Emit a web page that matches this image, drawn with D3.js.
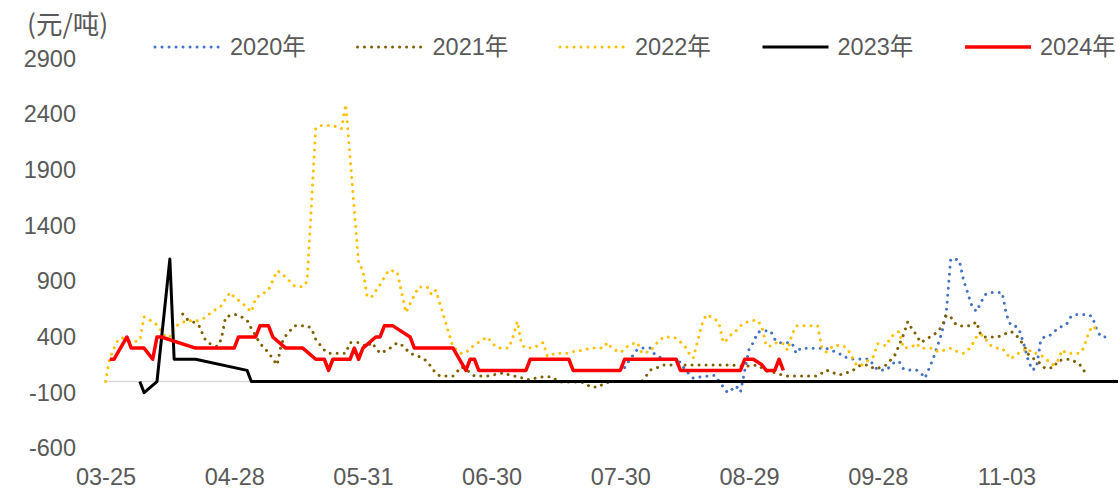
<!DOCTYPE html>
<html>
<head>
<meta charset="utf-8">
<script src="https://cdn.jsdelivr.net/npm/d3@7"></script>
<style>
  html, body { margin: 0; padding: 0; background: #fff; }
  svg { display: block; }
  text { font-family: "Liberation Sans", Arial, "Noto Sans CJK SC", sans-serif; fill: #595959; }
</style>
</head>
<body>
<svg id="chart" width="1120" height="489"></svg>
<script>
// Axis content
const unitLabel = "(元/吨)";
const tickLabels = ["03-25", "04-28", "05-31", "06-30", "07-30", "08-29", "09-28", "11-03"];
const labelStep = 30;          // one date label every 30 categories
const categoryCount = 237;     // trading-day categories from 03-25 to late November
const yTicks = [-600, -100, 400, 900, 1400, 1900, 2400, 2900];
const seriesNames = ["2020年", "2021年", "2022年", "2023年", "2024年"];

// Values per year: [category index, 元/吨]
const y2020 = [[121,125],[122,187],[123,238],[124,289],[125,300],[127,300],[128,245],[130,200],[133,200],[134,170],[135,110],[136,70],[137,30],[139,43],[142,56],[144,-50],[145,-100],[146,-72],[147,-40],[148,-95],[150,290],[151,350],[152,440],[153,456],[155,456],[156,380],[157,348],[160,348],[161,253],[162,298],[168,298],[171,253],[172,223],[174,202],[178,202],[179,148],[180,103],[182,103],[183,139],[184,178],[185,178],[186,112],[187,103],[189,103],[190,79],[191,30],[192,120],[193,214],[194,328],[195,447],[196,627],[197,1100],[198,1100],[199,1090],[200,911],[201,791],[202,671],[203,630],[204,707],[205,780],[206,800],[209,800],[210,600],[211,507],[212,501],[213,462],[214,343],[215,200],[216,103],[217,124],[218,372],[219,405],[220,411],[221,440],[222,480],[224,513],[225,580],[226,603],[229,603],[230,582],[231,470],[232,402],[234,397]];

const y2021 = [[18,606],[19,560],[21,525],[22,490],[23,390],[24,345],[26,315],[27,380],[28,580],[30,603],[31,597],[33,550],[34,477],[36,343],[38,260],[40,148],[41,340],[42,410],[44,500],[47,500],[48,477],[49,380],[50,330],[51,283],[52,253],[56,253],[57,350],[59,350],[61,312],[62,352],[64,253],[66,290],[68,348],[69,330],[71,253],[73,225],[74,208],[75,178],[76,127],[77,74],[78,49],[81,49],[83,133],[84,110],[86,49],[89,49],[93,79],[94,60],[96,43],[99,13],[100,29],[102,43],[104,43],[105,15],[106,-5],[111,-5],[112,-20],[113,-50],[115,-50],[116,-20],[118,0],[125,0],[126,49],[127,103],[129,130],[130,148],[146,148],[149,135],[150,140],[152,148],[154,95],[156,79],[158,55],[159,49],[166,49],[168,103],[171,58],[174,94],[176,148],[178,148],[179,118],[180,118],[182,148],[184,238],[186,420],[187,537],[188,470],[189,420],[190,350],[191,372],[193,420],[194,447],[195,500],[196,597],[197,580],[198,522],[199,498],[201,500],[202,507],[203,537],[204,417],[205,400],[208,400],[211,450],[212,430],[213,380],[214,330],[215,250],[216,210],[217,195],[219,118],[221,125],[222,187],[224,199],[225,199],[227,157],[228,100],[229,58]];

const y2022 = [[0,0],[1,210],[2,300],[3,380],[4,390],[6,355],[7,360],[8,370],[9,580],[10,565],[11,530],[12,510],[14,400],[15,400],[16,490],[19,550],[21,540],[23,570],[25,630],[27,680],[29,800],[30,760],[32,700],[34,625],[35,750],[38,820],[40,995],[41,975],[44,860],[46,850],[47,900],[49,2270],[50,2300],[53,2300],[55,2270],[56,2490],[59,1060],[60,1000],[61,760],[62,760],[64,870],[66,1000],[68,985],[70,620],[71,700],[73,850],[75,850],[76,780],[77,820],[81,310],[83,250],[84,260],[86,330],[89,400],[91,310],[92,300],[94,300],[95,400],[96,540],[97,330],[98,300],[100,305],[102,350],[103,225],[105,255],[108,255],[110,280],[111,277],[113,300],[116,300],[117,350],[118,300],[120,260],[121,290],[122,330],[124,350],[125,255],[127,270],[128,330],[129,360],[130,400],[132,400],[133,390],[135,320],[136,253],[137,210],[139,510],[140,600],[142,565],[143,520],[144,350],[145,380],[146,430],[147,456],[148,500],[150,545],[152,550],[153,490],[154,320],[155,320],[156,348],[158,340],[159,280],[160,420],[161,500],[166,500],[167,300],[168,265],[169,300],[170,328],[172,320],[173,290],[174,220],[175,150],[176,140],[177,170],[178,195],[179,225],[180,340],[182,320],[183,400],[185,450],[186,300],[188,312],[189,343],[190,298],[193,298],[194,268],[196,285],[197,298],[198,277],[200,253],[201,280],[202,330],[203,400],[204,426],[205,390],[206,330],[208,298],[209,298],[210,253],[211,202],[212,235],[214,280],[215,298],[216,253],[217,253],[219,215],[220,172],[221,148],[222,190],[223,283],[224,253],[227,253],[228,300],[229,420],[230,498],[231,470]];

const y2023 = [[8,0],[9,-100],[12,0],[15,1100],[16,200],[21,200],[33,100],[34,0],[236,0]];

const y2024 = [[1,200],[2,200],[5,400],[6,300],[9,300],[11,200],[12,400],[13,400],[21,300],[30,300],[31,400],[35,400],[36,500],[38,500],[39,400],[42,300],[46,300],[49,200],[51,200],[52,100],[53,200],[57,200],[58,300],[59,200],[60,300],[63,400],[64,400],[65,500],[67,500],[71,400],[72,300],[81,300],[84,100],[85,200],[86,200],[87,100],[98,100],[99,200],[108,200],[109,100],[120,100],[121,200],[133,200],[134,100],[148,100],[149,200],[151,200],[153,150],[154,100],[156,100],[157,200],[158,100]];

const seriesData = [y2020, y2021, y2022, y2023, y2024];
const seriesStyle = [
  { color: "#4472C4", width: 3,   dash: "0.01 7", cap: "round" },
  { color: "#7F6000", width: 3,   dash: "0.01 7", cap: "round" },
  { color: "#FFC000", width: 3,   dash: "0.01 7", cap: "round" },
  { color: "#000000", width: 3,   dash: null,     cap: "butt" },
  { color: "#FF0000", width: 3.5, dash: null,     cap: "butt" }
];

const svg = d3.select("#chart");
const FONT = 23.5;

const x = d3.scaleLinear().domain([0, categoryCount - 1]).range([105.5, 1118]);
const y = d3.scaleLinear().domain([-600, 2900]).range([448.3, 58.7]);

// Unit label
svg.append("text")
  .attr("x", 27).attr("y", 25).attr("dy", "0.35em")
  .style("font-size", "26.5px")
  .style("font-family", "\"Noto Sans CJK SC\", sans-serif")
  .text(unitLabel);

// Y axis (labels only)
const yAxis = svg.append("g")
  .attr("transform", "translate(82,0)")
  .call(d3.axisLeft(y).tickValues(yTicks).tickSize(0).tickPadding(6).tickFormat(d => String(d)));
yAxis.select(".domain").remove();
yAxis.selectAll("text").style("font-size", FONT + "px").attr("fill", "#595959");

// X axis labels
const xAxis = svg.append("g")
  .attr("transform", "translate(0,468)")
  .call(d3.axisBottom(x)
    .tickValues(d3.range(0, tickLabels.length).map(i => i * labelStep))
    .tickSize(0).tickPadding(0)
    .tickFormat((d, i) => tickLabels[i]));
xAxis.select(".domain").remove();
xAxis.selectAll("text").style("font-size", FONT + "px").attr("fill", "#595959");

// Horizontal category axis line at zero
svg.append("line")
  .attr("x1", x(0)).attr("x2", x(categoryCount - 1))
  .attr("y1", y(0)).attr("y2", y(0))
  .attr("stroke", "#D9D9D9").attr("stroke-width", 1.5);

// Series lines
const line = d3.line().x(d => x(d[0])).y(d => y(d[1]));
seriesData.forEach((data, i) => {
  const s = seriesStyle[i];
  svg.append("path")
    .datum(data)
    .attr("d", line)
    .attr("fill", "none")
    .attr("stroke", s.color)
    .attr("stroke-width", s.width)
    .attr("stroke-linecap", s.cap)
    .attr("stroke-linejoin", "round")
    .attr("stroke-dasharray", s.dash);
});

// Legend
const legendStart = 155, legendGap = 202.5, legendY = 47;
seriesNames.forEach((name, i) => {
  const s = seriesStyle[i];
  const g = svg.append("g").attr("transform", `translate(${legendStart + i * legendGap},${legendY})`);
  g.append("line")
    .attr("x1", 0).attr("x2", 66).attr("y1", 0).attr("y2", 0)
    .attr("stroke", s.color)
    .attr("stroke-width", s.width)
    .attr("stroke-linecap", s.cap)
    .attr("stroke-dasharray", s.dash);
  g.append("text")
    .attr("x", 75).attr("y", 0).attr("dy", "0.35em")
    .style("font-size", FONT + "px")
    .text(name);
});
</script>
</body>
</html>
